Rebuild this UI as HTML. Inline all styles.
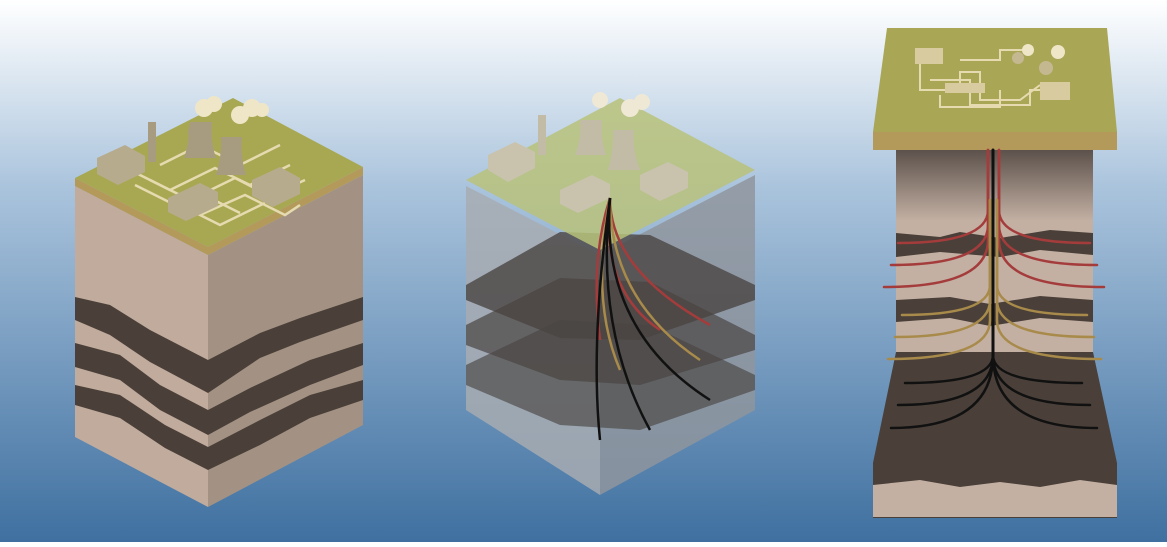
<!DOCTYPE html>
<html><head><style>html,body{margin:0;padding:0}body{width:1167px;height:542px;overflow:hidden}</style></head><body>
<svg width="1167" height="542" viewBox="0 0 1167 542" xmlns="http://www.w3.org/2000/svg">
<defs>
<linearGradient id="bg" x1="0" y1="0" x2="0" y2="1"><stop offset="0" stop-color="#ffffff"/><stop offset="0.35" stop-color="#a9c3dc"/><stop offset="1" stop-color="#3f70a0"/></linearGradient>
<linearGradient id="col" x1="0" y1="0" x2="0" y2="1"><stop offset="0" stop-color="#5c514b"/><stop offset="0.35" stop-color="#c3b0a3"/><stop offset="1" stop-color="#c3b0a3"/></linearGradient>
</defs>
<rect width="1167" height="542" fill="url(#bg)"/>

<!-- Block 1 -->
<polygon points="75,186 208,255 208,507 75,437" fill="#c0ab9d"/>
<polygon points="208,255 363,175 363,425 208,507" fill="#a39284"/>
<polygon points="75,297 110,305 150,330 208,360 208,393 150,362 110,335 75,320" fill="#4a4039"/>
<polygon points="208,360 260,333 300,318 363,297 363,320 300,342 260,358 208,393" fill="#4a4039"/>
<polygon points="75,343 120,355 160,385 208,410 208,435 160,410 120,380 75,367" fill="#4a4039"/>
<polygon points="208,410 250,388 310,360 363,343 363,365 310,385 250,412 208,435" fill="#4a4039"/>
<polygon points="75,385 120,395 165,425 208,447 208,470 165,448 120,418 75,405" fill="#4a4039"/>
<polygon points="208,447 260,420 310,395 363,380 363,400 310,418 260,445 208,470" fill="#4a4039"/>
<polygon points="75,178 208,247 363,167 363,175 208,255 75,186" fill="#b39a5a"/>
<polygon points="75,178 233,98 363,167 208,247" fill="#a8a852"/>
<g fill="none" stroke="#e6dbb0" stroke-width="2.5">
<path d="M130,170 L170,190 L215,168 L250,185 L290,165"/><path d="M150,180 L190,200 L235,178 L270,196 L305,180"/><path d="M135,185 L175,205 L200,193 L240,213"/><path d="M160,165 L200,145 L240,165 L280,145"/><path d="M180,205 L220,225 L265,203"/><path d="M200,215 L245,195 L285,215 L300,205"/>
</g>
<polygon points="97,158 125,145 145,156 145,172 118,185 97,174" fill="#b7ab8e"/>
<polygon points="252,180 280,167 300,178 300,194 273,207 252,196" fill="#b7ab8e"/>
<polygon points="168,198 200,183 218,192 218,206 186,221 168,212" fill="#b7ab8e"/>
<rect x="148" y="122" width="8" height="40" fill="#a89c80"/>
<path d="M188,132 Q192,112 190,122 L212,122 Q210,140 216,158 L184,158 Q190,140 188,132Z" fill="#a89c80"/>
<path d="M221,137 L242,137 Q240,155 246,175 L216,175 Q222,155 221,137Z" fill="#a89c80"/>
<circle cx="204" cy="108" r="9" fill="#efe6c8"/><circle cx="214" cy="104" r="8" fill="#efe6c8"/>
<circle cx="240" cy="115" r="9" fill="#efe6c8"/><circle cx="252" cy="108" r="9" fill="#efe6c8"/><circle cx="262" cy="110" r="7" fill="#efe6c8"/>

<!-- Block 2 -->
<polygon points="466,186 600,255 600,495 466,410" fill="#a7acb2" opacity="0.85"/>
<polygon points="600,255 755,175 755,410 600,495" fill="#8f959d" opacity="0.85"/>
<polygon points="466,285 560,232 650,235 755,285 755,300 640,340 560,338 466,300" fill="#4a4542" opacity="0.8"/>
<polygon points="466,325 560,278 650,282 755,335 755,350 640,385 560,380 466,345" fill="#4a4542" opacity="0.7"/>
<polygon points="466,365 560,320 650,325 755,375 755,390 640,430 560,425 466,385" fill="#4a4542" opacity="0.65"/>
<polygon points="466,180 620,98 755,170 600,250" fill="#b9c27a" opacity="0.85"/>
<polygon points="488,155 515,142 535,152 535,168 508,182 488,170" fill="#c9c3ad"/>
<polygon points="640,175 668,162 688,172 688,188 660,201 640,190" fill="#c9c3ad"/>
<polygon points="560,190 592,175 610,184 610,198 578,213 560,204" fill="#c9c3ad"/>
<rect x="538" y="115" width="8" height="40" fill="#c2bca7"/>
<path d="M580,120 L602,120 Q600,138 606,155 L575,155 Q582,138 580,120Z" fill="#c2bca7"/>
<path d="M613,130 L634,130 Q632,150 640,170 L608,170 Q614,150 613,130Z" fill="#c2bca7"/>
<circle cx="600" cy="100" r="8" fill="#efe8d4"/><circle cx="630" cy="108" r="9" fill="#efe8d4"/><circle cx="642" cy="102" r="8" fill="#efe8d4"/>
<g fill="none" stroke-width="2.5">
<path d="M610,198 Q600,290 660,330" stroke="#a53c3c"/><path d="M610,198 Q610,270 710,325" stroke="#a53c3c"/><path d="M610,198 Q590,260 600,340" stroke="#a53c3c"/>
<path d="M610,198 Q590,300 620,370" stroke="#a88a4a"/><path d="M610,198 Q610,300 700,360" stroke="#a88a4a"/>
<path d="M610,198 Q595,330 650,430" stroke="#111"/><path d="M610,198 Q600,330 710,400" stroke="#111"/><path d="M610,198 Q590,340 600,440" stroke="#111"/>
</g>

<!-- Block 3 -->
<rect x="896" y="150" width="197" height="202" fill="url(#col)"/>
<polygon points="896,233 940,237 960,232 1000,238 1050,230 1093,233 1093,255 1040,250 1000,257 940,252 896,257" fill="#4a4039"/>
<polygon points="896,300 950,297 990,304 1040,296 1093,300 1093,322 1040,318 990,326 950,318 896,322" fill="#4a4039"/>
<polygon points="896,352 1093,352 1117,463 873,463" fill="#4a4039"/>
<rect x="873" y="463" width="244" height="55" fill="#4a4039"/>
<polygon points="873,485 920,480 960,487 1000,482 1040,487 1080,480 1117,485 1117,517 873,517" fill="#c3b0a3"/>
<polygon points="873,132 1117,132 1117,150 873,150" fill="#b39a5a"/>
<polygon points="887,28 1107,28 1117,132 873,132" fill="#a9a656"/>
<g fill="none" stroke="#e6dbb0" stroke-width="2">
<path d="M920,60 L920,90 L960,90 L960,72 L980,72 L980,100 L1020,100 L1040,85"/><path d="M930,80 L970,80 L970,105 L1030,105 L1030,90 L1045,90"/><path d="M940,95 L940,107 L1000,107 L1000,90"/><path d="M960,60 L1000,60 L1000,50 L1030,50"/>
</g>
<rect x="915" y="48" width="28" height="16" fill="#d8cba0"/><rect x="1040" y="82" width="30" height="18" fill="#d8cba0"/><rect x="945" y="83" width="40" height="10" fill="#d8cba0"/>
<circle cx="1018" cy="58" r="6" fill="#c4b890"/><circle cx="1046" cy="68" r="7" fill="#c4b890"/>
<circle cx="1028" cy="50" r="6" fill="#efe6c8"/><circle cx="1058" cy="52" r="7" fill="#efe6c8"/>
<g fill="none" stroke-width="2.5" stroke-linecap="round">
<g stroke="#a53c3c"><path d="M988,150 L988,210 Q988,243 898,243"/><path d="M988,150 L988,225 Q988,265 891,265"/><path d="M988,150 L988,240 Q988,287 884,287"/>
<path d="M999,150 L999,210 Q999,243 1090,243"/><path d="M999,150 L999,225 Q999,265 1097,265"/><path d="M999,150 L999,240 Q999,287 1104,287"/></g>
<g stroke="#a88a4a"><path d="M990,200 L990,285 Q990,315 902,315"/><path d="M990,200 L990,300 Q990,337 895,337"/><path d="M990,200 L990,320 Q990,359 888,359"/>
<path d="M997,200 L997,285 Q997,315 1087,315"/><path d="M997,200 L997,300 Q997,337 1094,337"/><path d="M997,200 L997,320 Q997,359 1101,359"/></g>
<path d="M993,150 L993,355" stroke="#111" stroke-width="3"/>
<g stroke="#111"><path d="M993,355 Q993,383 905,383"/><path d="M993,355 Q993,405 898,405"/><path d="M993,355 Q993,428 891,428"/>
<path d="M993,355 Q993,383 1082,383"/><path d="M993,355 Q993,405 1090,405"/><path d="M993,355 Q993,428 1097,428"/></g>
</g>
</svg>
</body></html>
